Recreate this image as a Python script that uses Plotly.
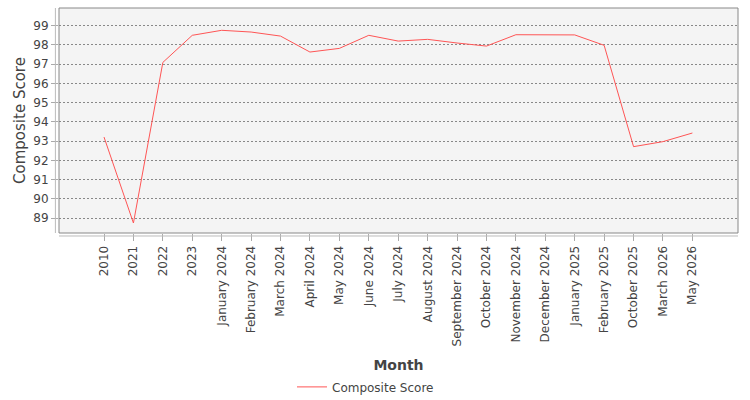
import plotly.graph_objects as go

months = ["2010", "2021", "2022", "2023", "January 2024", "February 2024", "March 2024",
          "April 2024", "May 2024", "June 2024", "July 2024", "August 2024",
          "September 2024", "October 2024", "November 2024", "December 2024",
          "January 2025", "February 2025", "October 2025", "March 2026", "May 2026"]
scores = [93.21, 88.74, 97.09, 98.50, 98.76, 98.67, 98.46, 97.63, 97.82, 98.50,
          98.20, 98.29, 98.10, 97.94, 98.53, 98.53, 98.52, 97.98, 92.71, 92.97, 93.42]
y_ticks = [89, 90, 91, 92, 93, 94, 95, 96, 97, 98, 99]

font = "DejaVu Sans"
fig = go.Figure()
fig.add_trace(go.Scatter(x=list(range(len(months))), y=scores, mode="lines",
                         name="Composite Score",
                         line=dict(color="#ff5555", width=1)))

fig.update_layout(
    width=750, height=400,
    margin=dict(l=59, r=12, t=8, b=167, autoexpand=False),
    paper_bgcolor="white", plot_bgcolor="#f4f4f4",
    font=dict(family=font, size=12, color="#444"),
    showlegend=True,
    legend=dict(orientation="h", x=0.4514, xanchor="center", y=-0.684, yanchor="middle",
                yref="paper", font=dict(size=12, color="#444"), itemwidth=30),
    xaxis=dict(
        range=[-1.53, 21.55], tickmode="array",
        tickvals=list(range(len(months))), ticktext=months,
        tickangle=-90, showgrid=False, zeroline=False, automargin=False,
        ticks="outside", ticklen=7, tickcolor="#aaa",
        tickfont=dict(size=12, color="#444"),
        title=dict(text="<b>Month</b>", font=dict(size=14, color="#444"), standoff=14),
        showline=False,
    ),
    yaxis=dict(
        range=[88.22, 99.92], tickmode="array", tickvals=y_ticks,
        showgrid=True, gridcolor="#888", griddash="2px,2px", gridwidth=1,
        zeroline=False, automargin=False, ticks="outside", ticklen=7, tickcolor="#aaa",
        tickfont=dict(size=12, color="#444"),
        title=dict(text="Composite Score", font=dict(size=15, color="#444"), standoff=4),
        showline=False,
    ),
)
# plot border and offset axis lines
fig.add_shape(type="rect", xref="paper", yref="paper", x0=0, y0=0, x1=1, y1=1,
              line=dict(color="#888", width=1), fillcolor="rgba(0,0,0,0)")
fig.add_shape(type="line", xref="paper", yref="paper", x0=-0.0053, x1=-0.0053, y0=0, y1=1,
              line=dict(color="#bbb", width=1))
fig.add_shape(type="line", xref="paper", yref="paper", x0=0, x1=1, y0=-0.0133, y1=-0.0133,
              line=dict(color="#bbb", width=1))

fig.write_html("out.html")
